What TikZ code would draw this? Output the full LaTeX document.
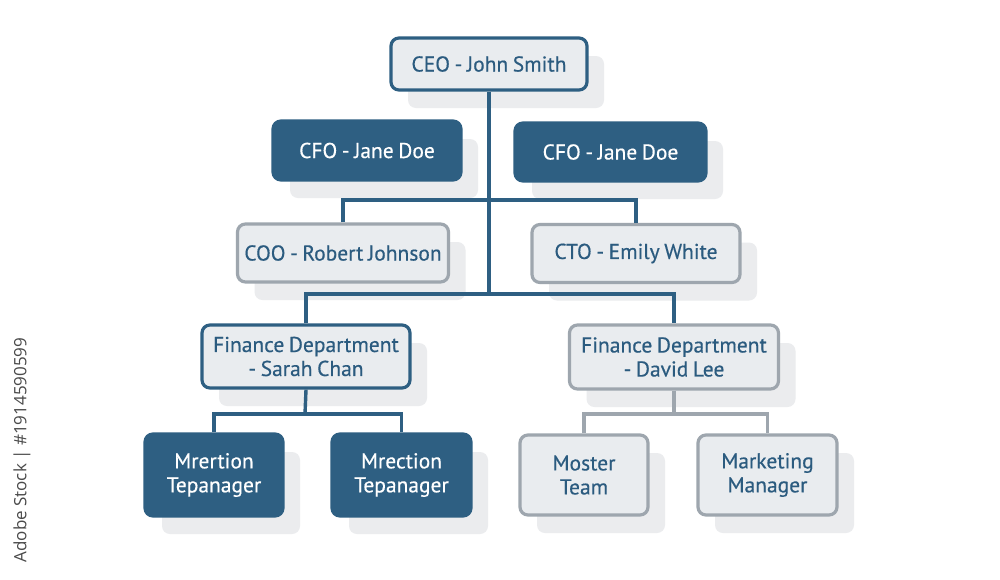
\documentclass[tikz,border=0pt]{standalone}
\usepackage{fontspec}
\setmainfont{PT Sans}[FakeBold=0.4, WordSpace=0.8]
\newfontfamily\wmfont{Open Sans}
\usetikzlibrary{shadows}
\definecolor{navy}{HTML}{2E5F82}
\definecolor{lightfill}{HTML}{E9ECEF}
\definecolor{greyline}{HTML}{9EA6AE}
\definecolor{textblue}{HTML}{2B5B7F}
\definecolor{shadegrey}{HTML}{EBECEE}
\definecolor{wmgrey}{HTML}{4A4A4A}
\tikzset{
  box/.style={rounded corners=8pt, line width=3.2pt, align=center, inner sep=0pt,
    font=\fontsize{21.5}{24}\selectfont,
    general shadow={fill=shadegrey, shadow xshift=17pt, shadow yshift=-18pt, opacity=1}},
  darkbox/.style={box, draw=navy, fill=navy, text=white},
  bluebox/.style={box, draw=navy, fill=lightfill, text=textblue},
  greybox/.style={box, draw=greyline, fill=lightfill, text=textblue},
  conn/.style={line width=3.4pt, draw=navy},
  gconn/.style={line width=3.4pt, draw=greyline},
}
\begin{document}
\begin{tikzpicture}[x=1pt, y=-1pt]
\useasboundingbox[fill=white] (0,0) rectangle (1000,579);

\coordinate (j1) at (488,200);
\coordinate (j2) at (488,294);
\coordinate (j3) at (305,414);
\coordinate (j4) at (674,414);

\node[bluebox, minimum width=196pt, minimum height=52pt] (ceo) at (489,64) {CEO - John Smith};
\node[darkbox, minimum width=188pt, minimum height=59pt] (cfo1) at (367,150.5) {CFO - Jane Doe};
\node[darkbox, minimum width=191pt, minimum height=58pt] (cfo2) at (610.5,152) {CFO - Jane Doe};

\node[greybox, minimum width=211pt, minimum height=58pt] (coo) at (343,253) {COO - Robert Johnson};
\node[greybox, minimum width=208pt, minimum height=58pt] (cto) at (636,253.5) {CTO - Emily White};
\node[bluebox, minimum width=208pt, minimum height=63pt] (fin1) at (306,356.5) {Finance Department\\- Sarah Chan};
\node[greybox, minimum width=209pt, minimum height=64pt] (fin2) at (674,357) {Finance Department\\- David Lee};
\node[darkbox, minimum width=138pt, minimum height=82pt] (m1) at (214,475) {Mrertion\\Tepanager};
\node[darkbox, minimum width=139pt, minimum height=82pt] (m2) at (401.5,475) {Mrection\\Tepanager};
\node[greybox, minimum width=128pt, minimum height=80pt] (mo) at (584,475) {Moster\\Team};
\node[greybox, minimum width=139pt, minimum height=80pt] (mk) at (767.5,475) {Marketing\\Manager};

\draw[conn] (ceo.south) -- (ceo.south |- j2);
\draw[conn] (coo.north) |- (j1) -| (cto.north);
\draw[conn] (fin1.north) |- (j2) -| (fin2.north);
\draw[conn] (fin1.south) -- (j3);
\draw[conn] (m1.north) |- (j3) -| (m2.north);
\draw[gconn] (fin2.south) -- (j4);
\draw[gconn] (mo.north) |- (j4) -| (mk.north);

\node[rotate=90, text=wmgrey, font=\wmfont\fontsize{17}{19}\selectfont] (wm) at (22,450) {Adobe Stock | \#1914590599};
\end{tikzpicture}
\end{document}
